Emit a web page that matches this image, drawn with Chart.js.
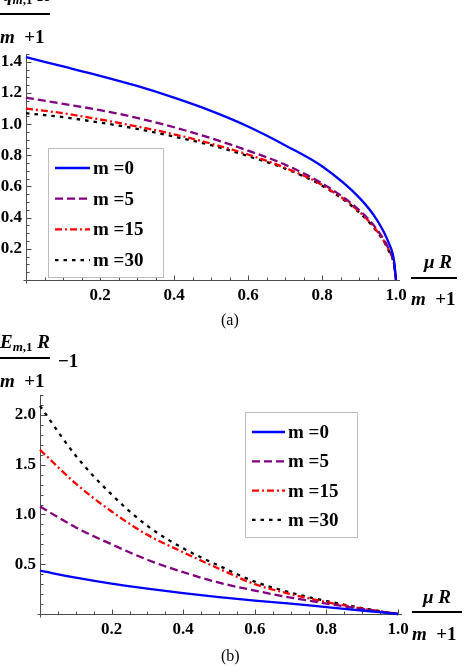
<!DOCTYPE html>
<html>
<head>
<meta charset="utf-8">
<script src="https://cdn.jsdelivr.net/npm/chart.js@4.4.0/dist/chart.umd.min.js"></script>
<style>
    html, body { margin: 0; padding: 0; background: #fff; }
    body { width: 468px; height: 666px; position: relative; overflow: hidden; font-family: "Liberation Serif", serif; }
    canvas { position: absolute; left: 0; top: 0; }
    .t { position: absolute; font-weight: bold; font-size: 19px; line-height: 1; white-space: nowrap; color: #000; }
    .t i { font-style: italic; }
    .t sub { font-size: 13px; vertical-align: -3px; line-height: 1; }
    .bar { position: absolute; height: 2px; background: #000; }
    .cap { position: absolute; font-size: 16px; line-height: 1; color: #000; }
</style>
</head>
<body>
<canvas id="chartA" width="468" height="666"></canvas>
<canvas id="chartB" width="468" height="666"></canvas>

<!-- (a) axis titles -->
<div class="t" style="left:3px; top:-15px;"><i>q</i><sub><i>m</i>,1</sub> <i>R</i></div>
<div class="bar" style="left:0; top:13px; width:50px;"></div>
<div class="t" style="left:0; top:27px;"><i>m</i>&nbsp; +1</div>
<div class="t" style="left:424px; top:252px;"><i>μ R</i></div>
<div class="bar" style="left:411px; top:277px; width:46px;"></div>
<div class="t" style="left:411px; top:289px;"><i>m</i>&nbsp; +1</div>
<div class="cap" style="left:221px; top:312px;">(a)</div>

<!-- (b) axis titles -->
<div class="t" style="left:0; top:332px;"><i>E</i><sub><i>m</i>,1</sub> <i>R</i></div>
<div class="bar" style="left:0; top:357px; width:50px;"></div>
<div class="t" style="left:58px; top:351px;">−1</div>
<div class="t" style="left:0; top:371px;"><i>m</i>&nbsp; +1</div>
<div class="t" style="left:423px; top:587px;"><i>μ R</i></div>
<div class="bar" style="left:412px; top:611px; width:50px;"></div>
<div class="t" style="left:412px; top:624px;"><i>m</i>&nbsp; +1</div>
<div class="cap" style="left:221px; top:648px;">(b)</div>

<script>
/**
 * Two Mathematica-style plots: q_{m,1} R/(m+1) and E_{m,1} R/(m+1) - 1
 * against mu R/(m+1), for m = 0, 5, 15, 30
 */

const SERIES_LABELS = ['m =0', 'm =5', 'm =15', 'm =30'];

// (a) values
const X_A = [0, 0.1, 0.2, 0.3, 0.4, 0.5, 0.6, 0.7, 0.8, 0.9, 0.95, 0.98, 0.995, 1.0];
const Q_M0 = [1.43, 1.37, 1.31, 1.245, 1.17, 1.085, 0.985, 0.865, 0.73, 0.53, 0.38, 0.24, 0.12, 0];
const Q_M5 = [1.17, 1.13, 1.09, 1.04, 0.98, 0.91, 0.83, 0.74, 0.62, 0.45, 0.32, 0.2, 0.1, 0];
const Q_M15 = [1.10, 1.07, 1.03, 0.985, 0.935, 0.875, 0.805, 0.72, 0.61, 0.44, 0.31, 0.195, 0.1, 0];
const Q_M30 = [1.07, 1.045, 1.01, 0.97, 0.92, 0.865, 0.795, 0.715, 0.605, 0.435, 0.305, 0.19, 0.095, 0];
const A_X_TICKS = [0.2, 0.4, 0.6, 0.8, 1.0];
const A_Y_TICKS = [0.2, 0.4, 0.6, 0.8, 1.0, 1.2, 1.4];

// (b) values
const X_B = [0, 0.1, 0.2, 0.3, 0.4, 0.5, 0.6, 0.7, 0.8, 0.9, 1.0];
const E_M0 = [0.435, 0.365, 0.305, 0.255, 0.21, 0.17, 0.135, 0.105, 0.07, 0.035, 0];
const E_M5 = [1.08, 0.87, 0.70, 0.545, 0.42, 0.315, 0.235, 0.165, 0.105, 0.05, 0];
const E_M15 = [1.65, 1.31, 1.03, 0.795, 0.62, 0.455, 0.30, 0.20, 0.12, 0.055, 0];
const E_M30 = [2.09, 1.59, 1.20, 0.885, 0.66, 0.485, 0.325, 0.215, 0.13, 0.06, 0];
const B_X_TICKS = [0.2, 0.4, 0.6, 0.8, 1.0];
const B_Y_TICKS = [0.5, 1.0, 1.5, 2.0];

const STYLES = [
    { color: 'rgb(0,0,255)', dash: [] },
    { color: 'rgb(128,0,128)', dash: [8, 4] },
    { color: 'rgb(255,0,0)', dash: [7, 3, 2, 3] },
    { color: 'rgb(0,0,0)', dash: [3.5, 5] }
];

const TICK_FONT = { family: '"Liberation Serif"', weight: 'bold', size: 17 };

// Axes through the origin with inward major/minor ticks
const mmaAxes = {
    id: 'mmaAxes',
    beforeDatasetsDraw(chart, args, o) {
        const { ctx, scales: { x, y } } = chart;
        const x0 = Math.round(x.getPixelForValue(0)) + 0.5;
        const y0 = Math.round(y.getPixelForValue(0)) + 0.5;
        ctx.save();
        ctx.strokeStyle = '#4d4d4d';
        ctx.lineWidth = 1;
        ctx.beginPath();
        ctx.moveTo(x0 - 3, y0);
        ctx.lineTo(x.getPixelForValue(x.max) + 4, y0);
        ctx.moveTo(x0, y0 + 3);
        ctx.lineTo(x0, y.getPixelForValue(y.max));
        for (let i = 1; i * o.xMinor <= x.max + 1e-9; i++) {
            const v = i * o.xMinor;
            const p = Math.round(x.getPixelForValue(v)) + 0.5;
            const major = Math.abs(v / o.xMajor - Math.round(v / o.xMajor)) < 1e-6;
            ctx.moveTo(p, y0);
            ctx.lineTo(p, y0 - (major ? 5 : 3));
        }
        for (let i = 1; i * o.yMinor <= y.max + 1e-9; i++) {
            const v = i * o.yMinor;
            const p = Math.round(y.getPixelForValue(v)) + 0.5;
            const major = Math.abs(v / o.yMajor - Math.round(v / o.yMajor)) < 1e-6;
            ctx.moveTo(x0, p);
            ctx.lineTo(x0 + (major ? 5 : 3), p);
        }
        ctx.stroke();
        ctx.restore();
    }
};

// Framed legend inside the plot
const boxLegend = {
    id: 'boxLegend',
    afterDatasetsDraw(chart, args, o) {
        const ctx = chart.ctx;
        ctx.save();
        ctx.fillStyle = '#fff';
        ctx.fillRect(o.left, o.top, o.width, o.height);
        ctx.strokeStyle = '#bdbdbd';
        ctx.lineWidth = 1;
        ctx.strokeRect(o.left + 0.5, o.top + 0.5, o.width, o.height);
        chart.data.datasets.forEach((ds, i) => {
            const yy = o.top + o.firstRow + i * o.rowGap;
            ctx.beginPath();
            ctx.setLineDash(ds.borderDash || []);
            ctx.strokeStyle = ds.borderColor;
            ctx.lineWidth = ds.borderWidth;
            ctx.moveTo(o.left + o.lineStart, yy);
            ctx.lineTo(o.left + o.lineEnd, yy);
            ctx.stroke();
            ctx.setLineDash([]);
            ctx.fillStyle = '#000';
            ctx.font = 'bold 19px "Liberation Serif"';
            ctx.textBaseline = 'middle';
            ctx.fillText(ds.label, o.left + o.textX, yy + 1);
        });
        ctx.restore();
    }
};

function zip(xs, ys) {
    return xs.map((v, i) => ({ x: v, y: ys[i] }));
}

function makeDatasets(xs, seriesList) {
    return seriesList.map((ys, i) => ({
        label: SERIES_LABELS[i],
        data: zip(xs, ys),
        borderColor: STYLES[i].color,
        borderDash: STYLES[i].dash,
        borderWidth: 2.3,
        pointRadius: 0,
        cubicInterpolationMode: 'monotone',
        clip: false,
        fill: false
    }));
}

function makeChart(id, cfg) {
    new Chart(document.getElementById(id), {
        type: 'line',
        data: { datasets: makeDatasets(cfg.xs, cfg.series) },
        options: {
            responsive: false,
            animation: false,
            layout: { padding: cfg.padding },
            plugins: {
                legend: { display: false },
                tooltip: { enabled: false },
                mmaAxes: cfg.ticks,
                boxLegend: cfg.legend
            },
            scales: {
                x: {
                    type: 'linear',
                    min: 0,
                    max: 1,
                    grid: { display: false, drawTicks: false },
                    border: { display: false },
                    afterBuildTicks: s => { s.ticks = cfg.xTicks.map(v => ({ value: v })); },
                    afterFit: s => { s.height = 30; },
                    ticks: {
                        font: TICK_FONT,
                        color: '#000',
                        padding: 5,
                        maxRotation: 0,
                        autoSkip: false,
                        callback: v => v.toFixed(1)
                    }
                },
                y: {
                    min: 0,
                    max: cfg.yMax,
                    grid: { display: false, drawTicks: false },
                    border: { display: false },
                    afterBuildTicks: s => { s.ticks = cfg.yTicks.map(v => ({ value: v })); },
                    afterFit: s => { s.width = cfg.yWidth; },
                    ticks: {
                        font: TICK_FONT,
                        color: '#000',
                        padding: 4,
                        autoSkip: false,
                        callback: v => v.toFixed(1)
                    }
                }
            }
        },
        plugins: [mmaAxes, boxLegend]
    });
}

makeChart('chartA', {
    xs: X_A,
    series: [Q_M0, Q_M5, Q_M15, Q_M30],
    xTicks: A_X_TICKS,
    yTicks: A_Y_TICKS,
    yMax: 1.45,
    yWidth: 26,
    padding: { left: 0, right: 72, top: 54, bottom: 356 },
    ticks: { xMinor: 0.05, xMajor: 0.2, yMinor: 0.05, yMajor: 0.2 },
    legend: { left: 48, top: 148, width: 115, height: 129, firstRow: 20, rowGap: 30.7, lineStart: 7, lineEnd: 42, textX: 45 }
});

makeChart('chartB', {
    xs: X_B,
    series: [E_M0, E_M5, E_M15, E_M30],
    xTicks: B_X_TICKS,
    yTicks: B_Y_TICKS,
    yMax: 2.2,
    yWidth: 40,
    padding: { left: 0, right: 70, top: 395, bottom: 22 },
    ticks: { xMinor: 0.05, xMajor: 0.2, yMinor: 0.1, yMajor: 0.5 },
    legend: { left: 245, top: 412, width: 112, height: 125, firstRow: 20, rowGap: 29.3, lineStart: 7, lineEnd: 40, textX: 43 }
});
</script>
</body>
</html>
